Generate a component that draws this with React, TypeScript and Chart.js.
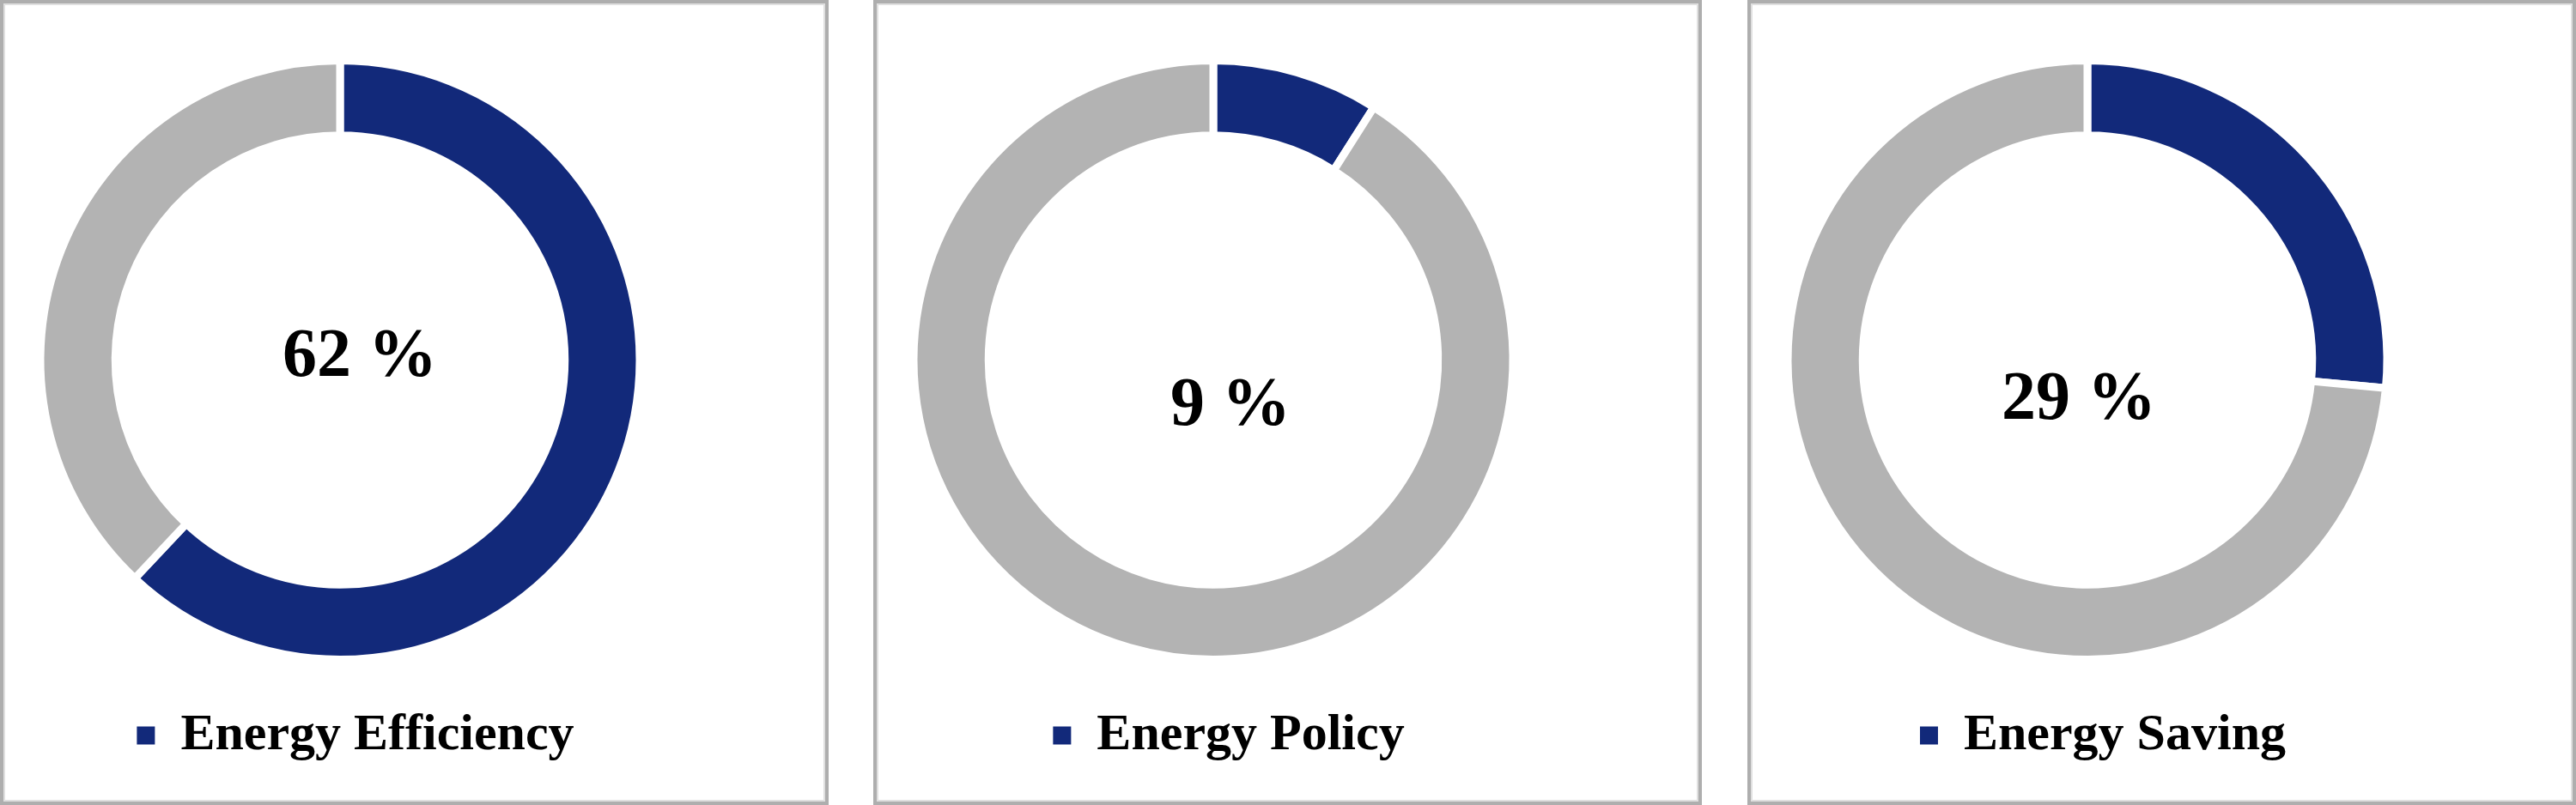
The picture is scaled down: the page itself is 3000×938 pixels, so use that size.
import React, { useEffect, useRef } from 'react';
import { Chart, registerables } from 'chart.js';

Chart.register(...registerables);

// ---- data ----
const categories = ['Energy Efficiency', 'Energy Policy', 'Energy Saving'];
const shareValues = [62, 9, 26.5];
const restValues = [38, 91, 73.5];
const centerLabels = ['62 %', '9 %', '29 %'];

// ---- styles ----
const NAVY = '#12297a';
const GREY = '#b3b3b3';
const PANEL_LEFT = [0, 1017, 2035];
const LABEL_OFFSET_X = [23, 20, -10];
const LABEL_OFFSET_Y = [-2, 55, 48];

const centerTextPlugin = {
  id: 'centerText',
  afterDraw(chart: any, _args: any, opts: any) {
    const { ctx, chartArea } = chart;
    const cx = (chartArea.left + chartArea.right) / 2 + (opts.dx || 0);
    const cy = (chartArea.top + chartArea.bottom) / 2 + (opts.dy || 0);
    ctx.save();
    ctx.font = 'bold 80px "Liberation Serif"';
    ctx.fillStyle = '#000';
    ctx.textAlign = 'center';
    ctx.textBaseline = 'middle';
    ctx.fillText(opts.text || '', cx, cy);
    ctx.restore();
  },
};

const legendShiftPlugin = {
  id: 'legendShift',
  afterLayout(chart: any, _args: any, opts: any) {
    if (chart.legend && opts.dx) {
      chart.legend.left += opts.dx;
      chart.legend.right += opts.dx;
    }
  },
};

function DonutPanel({ index }: { index: number }) {
  const ref = useRef<HTMLCanvasElement | null>(null);
  useEffect(() => {
    if (!ref.current) return;
    const chart = new Chart(ref.current, {
      type: 'doughnut',
      data: {
        labels: [categories[index], ''],
        datasets: [
          {
            data: [shareValues[index], restValues[index]],
            backgroundColor: [NAVY, GREY],
            borderColor: '#ffffff',
            borderWidth: 9,
          },
        ],
      },
      options: {
        responsive: false,
        animation: false,
        cutout: '75%',
        layout: { padding: { left: 0, right: 173, top: 62, bottom: 37 } },
        plugins: {
          tooltip: { enabled: false },
          legend: {
            display: true,
            position: 'bottom',
            labels: {
              boxWidth: 21,
              boxHeight: 21,
              padding: 54,
              color: '#000',
              font: { family: 'Liberation Serif', weight: 'bold', size: 60 },
              generateLabels: (c: any) => {
                const base = (Chart as any).overrides.doughnut.plugins.legend.labels.generateLabels(c);
                return base
                  .filter((_l: any, i: number) => i === 0)
                  .map((l: any) => ({ ...l, lineWidth: 0, strokeStyle: 'rgba(0,0,0,0)' }));
              },
            },
          },
          centerText: {
            text: centerLabels[index],
            dx: LABEL_OFFSET_X[index],
            dy: LABEL_OFFSET_Y[index],
          },
          legendShift: { dx: 18 },
        } as any,
      },
      plugins: [centerTextPlugin, legendShiftPlugin],
    });
    return () => chart.destroy();
  }, [index]);

  return (
    <div
      style={{
        position: 'absolute',
        left: PANEL_LEFT[index],
        top: 0,
        width: 965,
        height: 938,
        boxSizing: 'border-box',
        border: '4px solid #aeaeae',
        boxShadow: 'inset 0 0 0 2px #e0e0e0',
        background: '#fff',
      }}
    >
      <canvas ref={ref} width={957} height={930} style={{ display: 'block', width: 957, height: 930 }} />
    </div>
  );
}

export default function App() {
  return (
    <div style={{ position: 'absolute', left: 0, top: 0, width: 3000, height: 938, background: '#fff' }}>
      {categories.map((_c, i) => (
        <DonutPanel key={i} index={i} />
      ))}
    </div>
  );
}
